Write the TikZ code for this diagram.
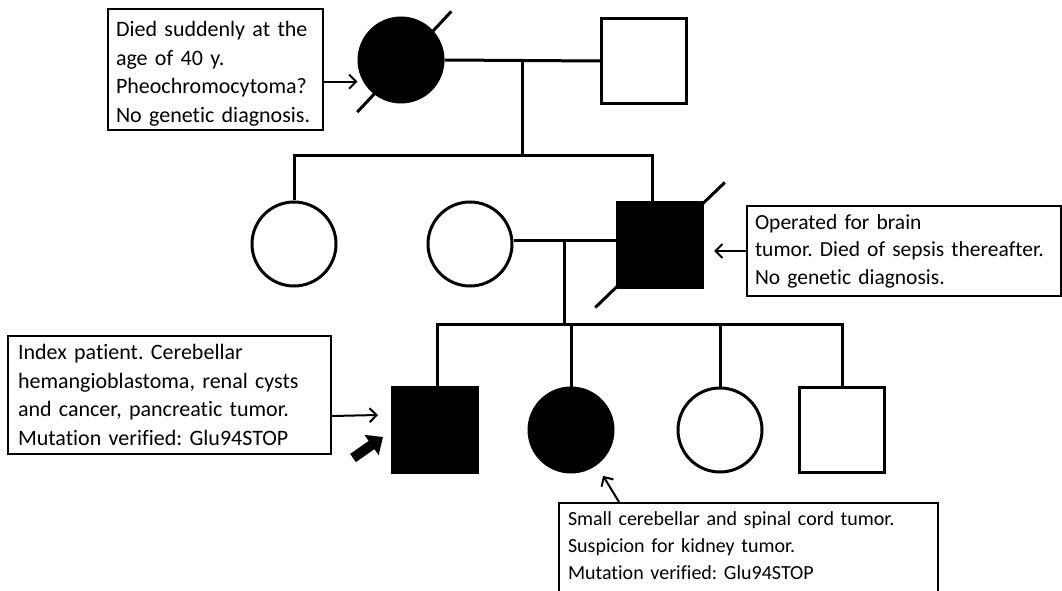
\documentclass[tikz,border=0pt]{standalone}
\usepackage{fontspec}
\setmainfont{Carlito}[Ligatures=NoCommon]
\usetikzlibrary{calc,positioning,arrows.meta}
\frenchspacing

\tikzset{
	male/.style={draw, line width=3pt, minimum size=85pt, inner sep=0pt},
	female/.style={draw, circle, line width=3pt, minimum size=84pt, inner sep=0pt},
	affected/.style={fill=black},
	rel/.style={line width=3pt},
	note/.style={draw, line width=2pt, anchor=north west, align=left, inner xsep=9pt, inner ysep=4pt,
		font=\fontsize{22}{28.5}\selectfont},
	pointer/.style={line width=2pt, -{Straight Barb[length=7pt, width=14pt, line width=2pt]}},
	proband/.style={line width=10pt, -{Triangle[length=14pt, width=24pt]}},
}

\begin{document}
\begin{tikzpicture}[x=1pt, y=1pt]
		%%%%% START %%%%%
		\useasboundingbox (0,0) rectangle (1062,590);
		\clip (0,0) rectangle (1062,590);
		
		% generation I
		\node[female, affected] (gm) at (401,530) {};
		\node[male] (gf) at (644,529) {};
		\draw[rel] ($(gm)+(44:70)$) -- ($(gm)+(230:68)$);
		\draw[rel] (gm.east) -- (gf.west) coordinate[pos=0.5] (m1);
		
		% generation II
		\node[female] (ii1) at (294,346) {};
		\node[female] (ii2) at (470,346) {};
		\node[male, affected] (ii3) at (660,345) {};
		\draw[rel] ($(ii3)+(44:90)$) -- ($(ii3)+(224:90)$);
		\coordinate (s1) at (m1 |- 0,434);
		\draw[rel] (m1) -- (s1);
		\draw[rel] (ii1.north) |- (s1) -| ([xshift=-8pt]ii3.north);
		\draw[rel] (ii2.east |- 0,350) -- (ii3.west |- 0,350) coordinate[pos=0.5] (m2);
		
		% generation III
		\node[male, affected] (iii1) at (435,160) {};
		\node[female, affected] (iii2) at (571,160) {};
		\node[female] (iii3) at (720,160) {};
		\node[male] (iii4) at (842,160) {};
		\coordinate (s2) at (m2 |- 0,266);
		\draw[rel] (m2) -- (s2);
		\draw[rel] ([xshift=2pt]iii1.north) |- (iii4.north |- s2) -- (iii4.north);
		\draw[rel] (iii2.north) -- (iii2.north |- s2);
		\draw[rel] (iii3.north) -- (iii3.north |- s2);
		
		% notes
		\node[note, inner xsep=8pt, text width=199pt, minimum height=120pt] (n1) at (107,582)
			{\rule{0pt}{24pt}Died suddenly at the\\age of 40 y.\\Pheochromocytoma?\\No genetic diagnosis.};
		\node[note, inner xsep=8pt, text width=298pt, minimum height=90pt, font=\fontsize{21.5}{27.5}\selectfont] (n2) at (746,385)
			{Operated for brain\\tumor. Died of sepsis thereafter.\\No genetic diagnosis.};
		\node[note, inner xsep=10pt, text width=303pt, minimum height=118pt] (n3) at (7,255)
			{Index patient. Cerebellar\\hemangioblastoma, renal cysts\\and cancer, pancreatic tumor.\\Mutation verified: Glu94STOP};
		\node[note, text width=361pt, inner ysep=9pt, font=\fontsize{20}{27}\selectfont] (n4) at (558,88)
			{Small cerebellar and spinal cord tumor.\\Suspicion for kidney tumor.\\Mutation verified: Glu94STOP\rule[-14pt]{0pt}{0pt}};
		
		% pointers
		\draw[pointer] ([yshift=-12pt]n1.east) -- ([yshift=-12pt]n1.east -| gm.west);
		\draw[pointer] (n2.west) -- ([xshift=10pt]ii3.east |- n2.west);
		\draw[pointer] ([yshift=-21pt]n3.east) -- ([xshift=-13pt,yshift=15pt]iii1.west);
		\coordinate (t4) at ($(iii2)+(-55:56)$);
		\draw[pointer] ([xshift=61pt]n4.north west) -- (t4);
		\draw[proband] ($(iii1.south west)+(-38,16)$) -- ($(iii1.south west)+(-8,37)$);
		
		%%%%% END %%%%%
	\end{tikzpicture}
\end{document}
